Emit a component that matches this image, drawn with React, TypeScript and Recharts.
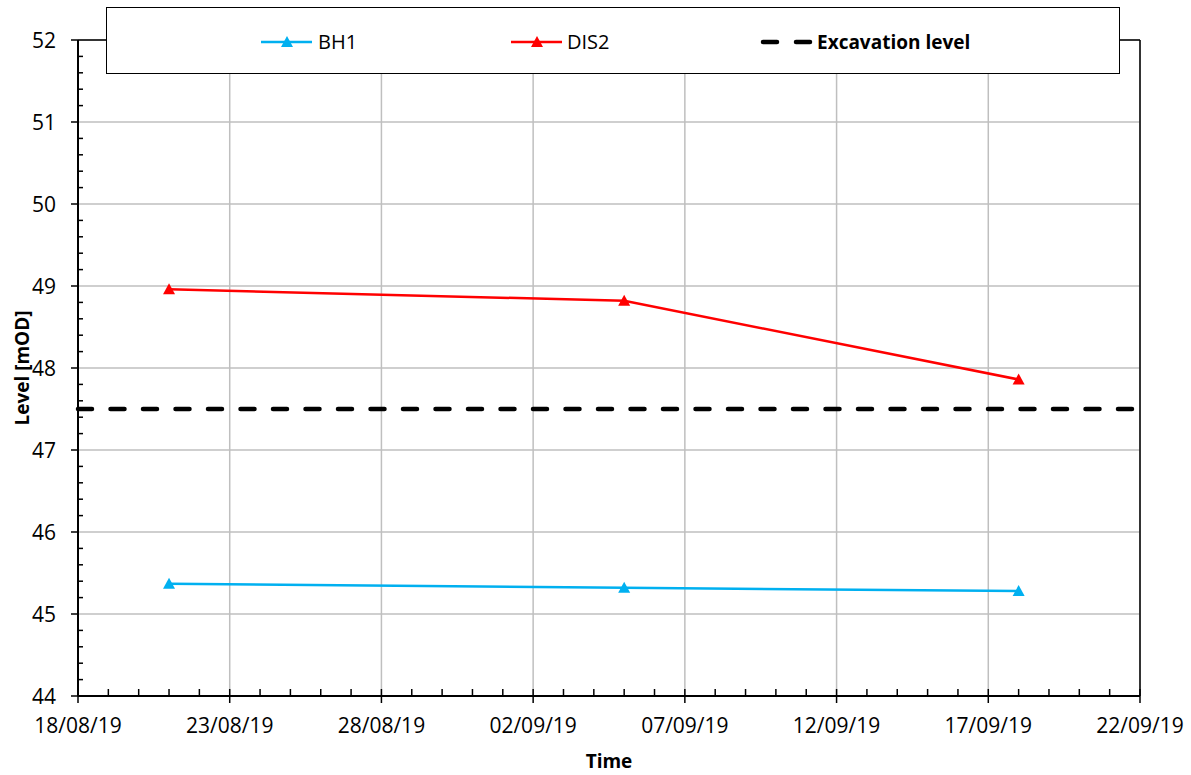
import React from 'react'
import {
  CartesianGrid,
  Legend,
  Line,
  LineChart,
  ReferenceLine,
  XAxis,
  YAxis,
} from 'recharts'

// readings (dd/mm/yy)
const dates = ['21/08/19', '05/09/19', '18/09/19']
const bh1 = [45.37, 45.32, 45.28]
const dis2 = [48.96, 48.82, 47.86]
const excavationLevel = 47.5

const xStart = '18/08/19'
const xEnd = '22/09/19'
const yMin = 44
const yMax = 52

const FONT = '"Open Sans", "Noto Sans", sans-serif'
const DAY = 86400000

const toTime = (s: string) => {
  const [d, m, y] = s.split('/').map(Number)
  return Date.UTC(2000 + y, m - 1, d)
}
const pad = (n: number) => String(n).padStart(2, '0')
const fmtDate = (t: number) => {
  const d = new Date(t)
  return `${pad(d.getUTCDate())}/${pad(d.getUTCMonth() + 1)}/${pad(d.getUTCFullYear() % 100)}`
}

const t0 = toTime(xStart)
const t1 = toTime(xEnd)
const dayTicks: number[] = []
for (let t = t0; t <= t1; t += DAY) dayTicks.push(t)
const majorX = dayTicks.filter((_, i) => i % 5 === 0)

const yTicks: number[] = []
for (let i = 0; i <= (yMax - yMin) * 5; i++) yTicks.push(Math.round((yMin + i * 0.2) * 10) / 10)
const majorY = yTicks.filter((v) => Number.isInteger(v))

const toSeries = (vals: number[]) => dates.map((d, i) => ({ time: toTime(d), value: vals[i] }))
const bh1Data = toSeries(bh1)
const dis2Data = toSeries(dis2)

const triangle = (color: string) => (props: any) => {
  const { cx, cy, index } = props
  if (cx == null || cy == null) return <g key={index} />
  return (
    <path
      key={index}
      d={`M${cx},${cy - 6} L${cx + 6},${cy + 5} L${cx - 6},${cy + 5} Z`}
      fill={color}
    />
  )
}

const XTick = (props: any) => {
  const { x, y, payload } = props
  const major = majorX.includes(payload.value)
  return (
    <g>
      <line x1={x} x2={x} y1={y - 7} y2={major ? y + 7 : y} stroke='#000' strokeWidth={1.5} />
      {major && (
        <text x={x} y={y + 37} textAnchor='middle' fontSize={21} fontFamily={FONT} fill='#000'>
          {fmtDate(payload.value)}
        </text>
      )}
    </g>
  )
}

const YTick = (props: any) => {
  const { x, y, payload } = props
  const major = Number.isInteger(Math.round(payload.value * 10) / 10)
  return (
    <g>
      {major ? (
        <line x1={x - 7} x2={x} y1={y} y2={y} stroke='#000' strokeWidth={1.5} />
      ) : (
        <line x1={x} x2={x + 5} y1={y} y2={y} stroke='#000' strokeWidth={1.5} />
      )}
      {major && (
        <text x={x - 22} y={y + 8} textAnchor='end' fontSize={21} fontFamily={FONT} fill='#000'>
          {payload.value}
        </text>
      )}
    </g>
  )
}

const LegendBox = () => (
  <div
    style={{
      position: 'relative',
      width: 1014,
      height: 67,
      boxSizing: 'border-box',
      border: '1.5px solid #000',
      background: '#fff',
      fontFamily: FONT,
    }}
  >
    <svg width={1014} height={67} style={{ position: 'absolute', left: 0, top: 0 }}>
      <line x1={154} x2={205} y1={34} y2={34} stroke='#00B0F0' strokeWidth={2.5} />
      <path d='M180,28 L186,39 L174,39 Z' fill='#00B0F0' />
      <line x1={404} x2={455} y1={34} y2={34} stroke='#FF0000' strokeWidth={2.5} />
      <path d='M430,28 L436,39 L424,39 Z' fill='#FF0000' />
      <line x1={656} x2={670} y1={34} y2={34} stroke='#000' strokeWidth={4.5} strokeLinecap='round' />
      <line x1={689} x2={703} y1={34} y2={34} stroke='#000' strokeWidth={4.5} strokeLinecap='round' />
      <text x={211} y={41} fontSize={20} fontFamily={FONT}>BH1</text>
      <text x={460} y={41} fontSize={20} fontFamily={FONT}>DIS2</text>
      <text x={710} y={41} fontSize={19} fontFamily={FONT} fontWeight='bold'>Excavation level</text>
    </svg>
  </div>
)

export default function App() {
  return (
    <div style={{ position: 'absolute', left: 0, top: 0, background: '#fff' }}>
      <LineChart width={1191} height={775} margin={{ top: 40, right: 51, left: 18, bottom: 29 }}>
        <CartesianGrid
          stroke='#BFBFBF'
          strokeWidth={1.5}
          verticalValues={majorX}
          horizontalValues={majorY}
        />
        <XAxis
          dataKey='time'
          type='number'
          domain={[t0, t1]}
          ticks={dayTicks}
          interval={0}
          tick={<XTick />}
          tickSize={0}
          tickMargin={0}
          tickLine={false}
          axisLine={{ stroke: '#000', strokeWidth: 2 }}
          height={50}
          allowDataOverflow
          label={{
            value: 'Time',
            position: 'insideBottom',
            offset: -22,
            fontFamily: FONT,
            fontSize: 19,
            fontWeight: 'bold',
            fill: '#000',
          }}
        />
        <YAxis
          type='number'
          domain={[yMin, yMax]}
          ticks={yTicks}
          interval={0}
          tick={<YTick />}
          tickSize={0}
          tickMargin={0}
          tickLine={false}
          axisLine={{ stroke: '#000', strokeWidth: 2 }}
          width={60}
          allowDataOverflow
          label={{
            value: 'Level [mOD]',
            angle: -90,
            position: 'insideLeft',
            offset: 4,
            style: { textAnchor: 'middle' },
            fontFamily: FONT,
            fontSize: 19,
            fontWeight: 'bold',
            fill: '#000',
          }}
        />
        <ReferenceLine y={yMax} stroke='#000' strokeWidth={1.5} />
        <ReferenceLine x={t1} stroke='#000' strokeWidth={1.5} />
        <ReferenceLine
          y={excavationLevel}
          stroke='#000'
          strokeWidth={4.5}
          strokeDasharray='14 18.5'
          strokeLinecap='round'
        />
        <Line
          data={bh1Data}
          dataKey='value'
          name='BH1'
          stroke='#00B0F0'
          strokeWidth={2.5}
          dot={triangle('#00B0F0')}
          isAnimationActive={false}
        />
        <Line
          data={dis2Data}
          dataKey='value'
          name='DIS2'
          stroke='#FF0000'
          strokeWidth={2.5}
          dot={triangle('#FF0000')}
          isAnimationActive={false}
        />
        <Legend
          layout='horizontal'
          verticalAlign='middle'
          align='center'
          content={<LegendBox />}
          wrapperStyle={{ left: 106, top: 7, width: 1014, height: 67 }}
        />
      </LineChart>
    </div>
  )
}
